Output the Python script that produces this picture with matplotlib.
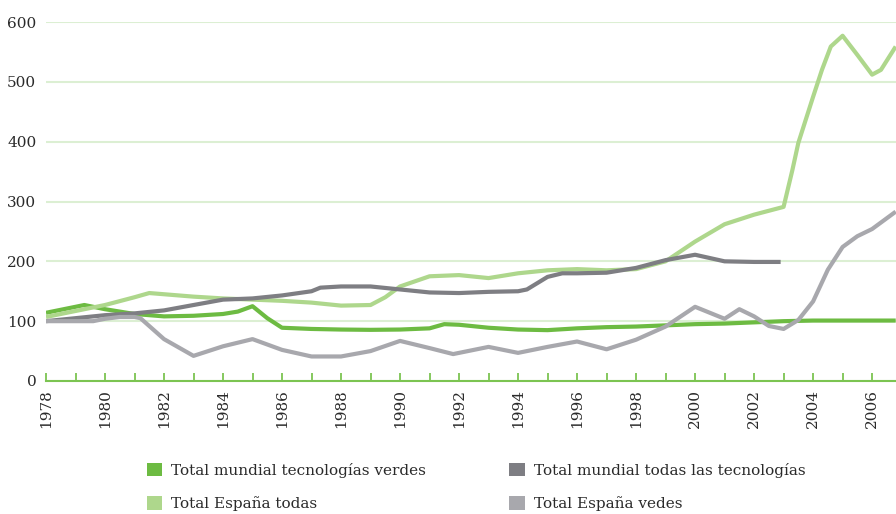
import matplotlib
matplotlib.use("Agg")
import matplotlib.pyplot as plt
from matplotlib.patches import Patch
from matplotlib.ticker import MultipleLocator

plt.rcParams["font.family"] = ["DejaVu Serif"]

# ---- data (index, 1978 = 100) ----
yrs_verdes = [1978, 1979, 1979.3, 1980, 1981, 1982, 1983, 1984, 1984.5, 1985,
              1985.5, 1986, 1987, 1988, 1989, 1990, 1991, 1991.5, 1992, 1993,
              1994, 1995, 1996, 1997, 1998, 1999, 2000, 2001, 2002, 2003,
              2004, 2005, 2006, 2006.8]
mundial_verdes = [114, 124, 127, 120, 112, 108, 109, 112, 116, 125,
                  105, 89, 87, 86, 85.5, 86, 88, 95, 94, 89,
                  86, 85, 88, 90, 91, 93, 95, 96, 98, 100,
                  101, 101, 101, 101]

yrs_esp_todas = [1978, 1979, 1980, 1981, 1981.5, 1982, 1983, 1984, 1985, 1986,
                 1987, 1988, 1989, 1989.5, 1990, 1991, 1992, 1993, 1994, 1995,
                 1996, 1997, 1998, 1999, 2000, 2001, 2002, 2003, 2003.3,
                 2003.5, 2004, 2004.3, 2004.6, 2005, 2005.5, 2006, 2006.3, 2006.8]
espana_todas = [107, 117, 127, 140, 147, 145, 141, 138, 136, 134,
                131, 126, 127, 140, 158, 175, 177, 172, 180, 185,
                187, 185, 187, 200, 233, 262, 278, 291, 353,
                398, 475, 520, 559, 577, 545, 512, 520, 559]

yrs_mundial_todas = [1978, 1979, 1980, 1981, 1982, 1983, 1984, 1985, 1986, 1987,
                     1987.3, 1988, 1989, 1990, 1991, 1992, 1993, 1994, 1994.3,
                     1995, 1995.5, 1996, 1997, 1998, 1999, 2000, 2001, 2002, 2002.9]
mundial_todas = [100, 105, 110, 113, 118, 127, 136, 138, 143, 150,
                 156, 158, 158, 153, 148, 147, 149, 150, 153,
                 174, 180, 180, 181, 189, 202, 211, 200, 199, 199]

yrs_esp_verdes = [1978, 1979, 1979.6, 1980, 1980.5, 1981, 1981.2, 1982, 1983, 1984,
                  1985, 1986, 1987, 1988, 1989, 1990, 1991, 1991.8, 1993, 1994,
                  1995, 1996, 1997, 1998, 1999, 2000, 2001, 2001.5, 2002, 2002.5,
                  2003, 2003.5, 2004, 2004.5, 2005, 2005.5, 2006, 2006.8]
espana_verdes = [100, 100, 100, 104, 107, 107, 105, 70, 42, 58,
                 70, 52, 41, 41, 50, 67, 55, 45, 57, 47,
                 57, 66, 53, 69, 91, 124, 104, 120, 108, 92,
                 87, 102, 133, 186, 224, 242, 254, 283]

labels = ["Total mundial tecnologías verdes", "Total España todas",
          "Total mundial todas las tecnologías", "Total España vedes"]
colors = ["#6dbb42", "#aed78c", "#7e7e83", "#a8a8ad"]

fig = plt.figure(figsize=(8.96, 5.14), dpi=100)
ax = fig.add_axes([46 / 896, (514 - 381) / 514, 1 - 46 / 896, 359 / 514])

lw = 3.0
ax.plot(yrs_verdes, mundial_verdes, color=colors[0], lw=lw,
        solid_joinstyle="round", solid_capstyle="butt", zorder=3)
ax.plot(yrs_esp_todas, espana_todas, color=colors[1], lw=lw,
        solid_joinstyle="round", solid_capstyle="butt", zorder=3)
ax.plot(yrs_mundial_todas, mundial_todas, color=colors[2], lw=lw,
        solid_joinstyle="round", solid_capstyle="butt", zorder=4)
ax.plot(yrs_esp_verdes, espana_verdes, color=colors[3], lw=lw,
        solid_joinstyle="round", solid_capstyle="butt", zorder=4)

ax.set_xlim(1978, 2006.81)
ax.set_ylim(0, 600)

ax.yaxis.set_major_locator(MultipleLocator(100))
ax.grid(axis="y", color="#dcefd3", lw=1.5, zorder=0)
ax.set_axisbelow(True)

for s in ("top", "right", "left"):
    ax.spines[s].set_visible(False)
ax.spines["bottom"].set_color("#7cc452")
ax.spines["bottom"].set_linewidth(1.5)
ax.spines["bottom"].set_zorder(5)

ax.set_xticks(range(1978, 2007, 2))
ax.set_xticks(range(1979, 2007, 2), minor=True)
ax.tick_params(axis="x", which="both", direction="in", length=6, width=1.3,
               color="#7cc452", labelsize=11, labelcolor="#2a2a2a",
               labelrotation=90, pad=6)
ax.tick_params(axis="y", length=0, labelsize=11, labelcolor="#2a2a2a", pad=7)

handles = [Patch(facecolor=c, edgecolor="none") for c in colors]
fig.legend(handles, labels, ncol=2, loc="upper left",
           bbox_to_anchor=(133 / 896, 1 - 449 / 514), frameon=False,
           fontsize=11, handlelength=1.0, handleheight=1.0,
           handletextpad=0.6, columnspacing=5.45, labelspacing=1.2,
           labelcolor="#2a2a2a")

fig.savefig("out.png", dpi=100)
